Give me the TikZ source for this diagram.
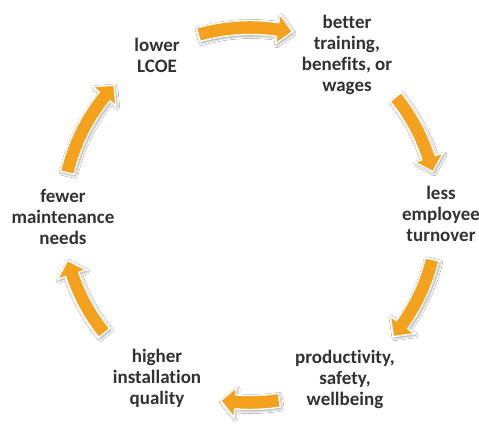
\documentclass[tikz,border=0pt]{standalone}
\usepackage{fontspec}
\setmainfont{Carlito}[Ligatures=NoCommon]
\usetikzlibrary{shadows.blur}
\definecolor{cycleorange}{RGB}{244,161,30}
\definecolor{labelgray}{RGB}{50,50,50}

% Curved block arrow around the hub, running clockwise
% #1 = angle of the tail, #2 = angle of the tip
\newcommand\bendarrow[2]{%
  \pgfmathsetmacro\headback{#2+4.5}%
  \path[cyclearrow] (#1:194.5pt) arc[start angle=#1, end angle=\headback, radius=194.5pt]
    -- (\headback:203pt) -- (#2:188pt) -- (\headback:173pt)
    -- (\headback:180.5pt) arc[start angle=\headback, end angle=#1, radius=180.5pt] -- cycle;}

\begin{document}
\begin{tikzpicture}[x=1pt,y=1pt,
  steplabel/.style={font=\fontsize{19}{21}\selectfont\bfseries, text=labelgray,
    align=center, inner sep=0pt},
  cyclearrow/.style={fill=cycleorange, draw=white, line width=1.4pt, line join=miter,
    blur shadow={shadow xshift=1.2pt, shadow yshift=-1.5pt,
      shadow blur radius=2.5pt, shadow opacity=40}}]
\useasboundingbox (0,0) rectangle (479,423);
\fill[white] (0,0) rectangle (479,423);
\coordinate (hub) at (250,208);

% the six steps of the cycle
\node[steplabel] (lcoe)        at (157,368)   {lower\\LCOE};
\node[steplabel] (training)    at (347,368) {better\\training,\\benefits, or\\wages};
\node[steplabel] (turnover)    at (441,209)   {less\\employee\\turnover};
\node[steplabel] (productivity) at (345,44)   {productivity,\\safety,\\wellbeing};
\node[steplabel] (quality)     at (157,45)    {higher\\installation\\quality};
\node[steplabel] (maintenance) at (63,206)    {fewer\\maintenance\\needs};

% arrows between consecutive steps
\begin{scope}[shift={(hub)}]
  \bendarrow{106}{77}
  \bendarrow{39}{13.3}
  \bendarrow{-13.7}{-40.3}
  \bendarrow{-81}{-99}
  \bendarrow{-141}{-166}
  \bendarrow{167}{136.3}
\end{scope}
\end{tikzpicture}
\end{document}
